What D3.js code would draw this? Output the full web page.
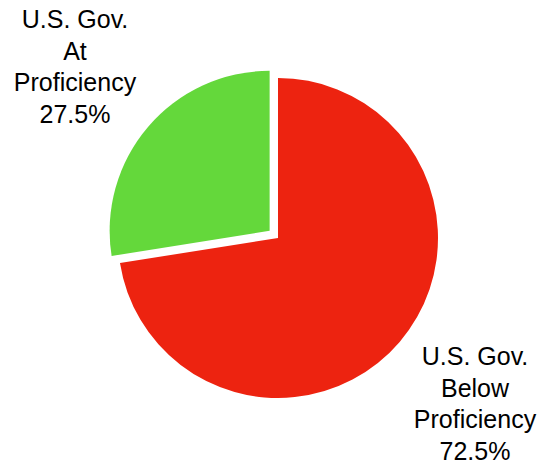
<!DOCTYPE html>
<html><head><meta charset="utf-8">
<script src="https://cdn.jsdelivr.net/npm/d3@7"></script>
<style>body{margin:0;background:#fff}svg{display:block}</style>
</head><body>
<script>
const categories = ["U.S. Gov. Below Proficiency", "U.S. Gov. At Proficiency"];
const labelLines = [["U.S. Gov.", "Below", "Proficiency", "72.5%"], ["U.S. Gov.", "At", "Proficiency", "27.5%"]];
const values = [72.5, 27.5];
const colors = ["#ED2310", "#64D83B"];
const explode = [0, 11];

const W = 544, H = 469;
const cx = 278, cy = 238, R = 160;
const svg = d3.select("body").append("svg").attr("width", W).attr("height", H);

const pie = d3.pie().sort(null).value(d => d)(values);
const arc = d3.arc().innerRadius(0).outerRadius(R);
const g = svg.append("g").attr("transform", `translate(${cx},${cy})`);

g.selectAll("path").data(pie).join("path")
  .attr("d", arc)
  .attr("fill", (d, i) => colors[i])
  .attr("transform", (d, i) => {
    const a = (d.startAngle + d.endAngle) / 2;
    return `translate(${Math.sin(a) * explode[i]},${-Math.cos(a) * explode[i]})`;
  });

const labelPos = [[475, 365], [75, 28]];
const lh = 31.7;
labelLines.forEach((lines, i) => {
  const t = svg.append("text")
    .attr("text-anchor", "middle")
    .attr("font-family", "Liberation Sans, Arial, Helvetica, sans-serif")
    .attr("font-size", 25)
    .attr("fill", "#000");
  lines.forEach((l, j) => {
    t.append("tspan").attr("x", labelPos[i][0]).attr("y", labelPos[i][1] + j * lh).text(l);
  });
});
</script>
</body></html>
